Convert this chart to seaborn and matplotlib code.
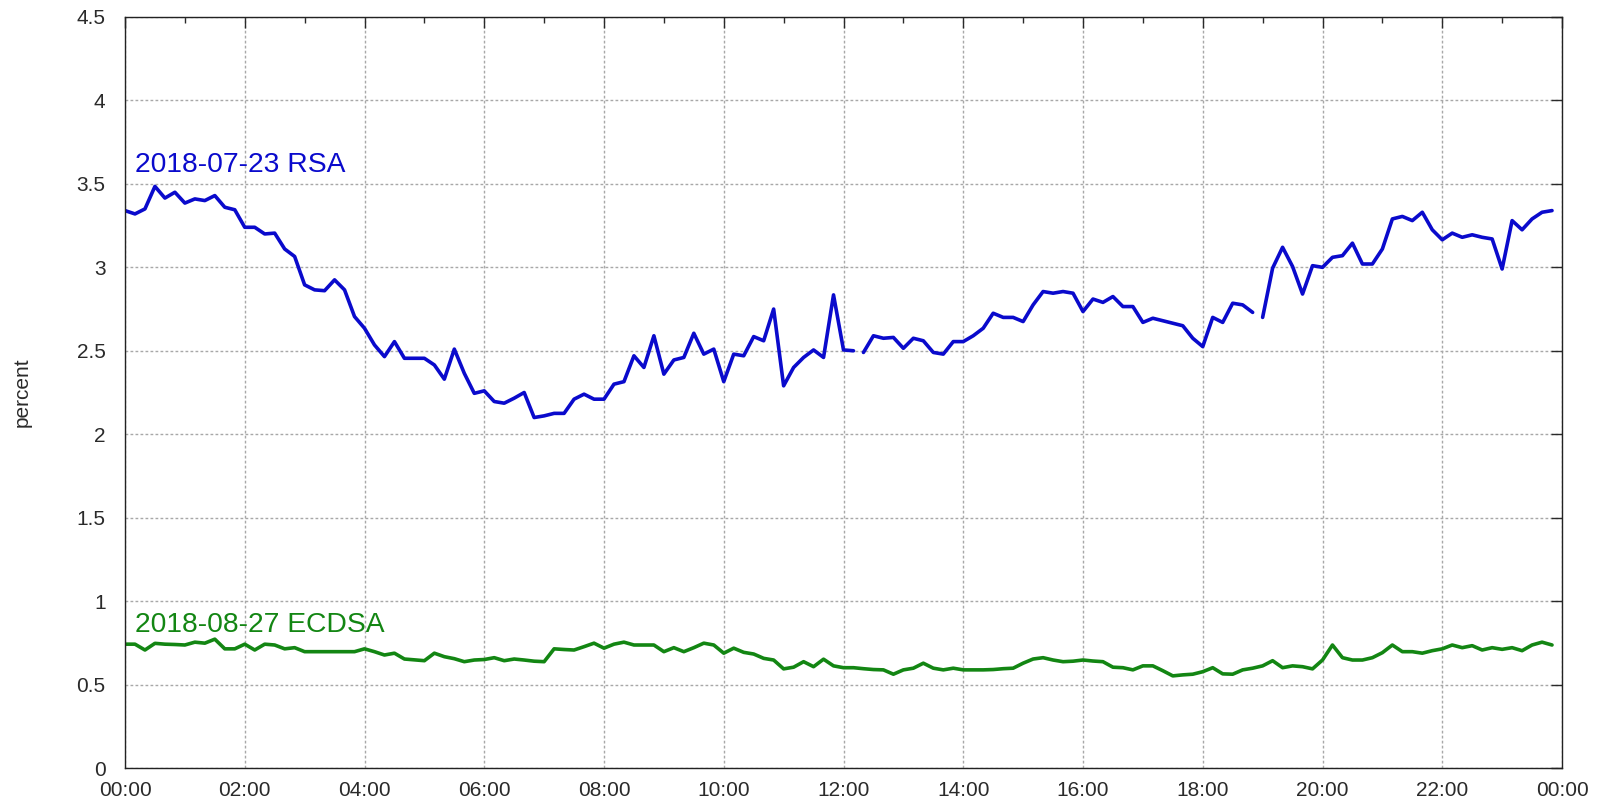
import matplotlib

matplotlib.use("Agg")
import matplotlib.pyplot as plt
import numpy as np
import pandas as pd
import seaborn as sns
from matplotlib.ticker import MultipleLocator

# one sample every 10 minutes, starting at 00:00
sample_minutes = 10

rsa_label = "2018-07-23 RSA"
ecdsa_label = "2018-08-27 ECDSA"

rsa_values = [
    3.34, 3.32, 3.35, 3.485, 3.415, 3.45, 3.385, 3.41, 3.40, 3.43, 3.36, 3.345,
    3.24, 3.24, 3.20, 3.205, 3.11, 3.065, 2.895, 2.865, 2.86, 2.925, 2.865, 2.705,
    2.635, 2.535, 2.465, 2.555, 2.455, 2.455, 2.455, 2.415, 2.33, 2.51, 2.365, 2.245,
    2.26, 2.196, 2.186, 2.216, 2.25, 2.10, 2.11, 2.125, 2.125, 2.21, 2.24, 2.21,
    2.21, 2.30, 2.315, 2.47, 2.40, 2.59, 2.36, 2.445, 2.46, 2.605, 2.48, 2.51,
    2.315, 2.48, 2.47, 2.585, 2.56, 2.75, 2.29, 2.40, 2.46, 2.505, 2.46, 2.835,
    2.505, 2.50, 2.49, 2.59, 2.575, 2.58, 2.515, 2.575, 2.56, 2.49, 2.48, 2.555,
    2.555, 2.59, 2.635, 2.725, 2.70, 2.70, 2.675, 2.775, 2.855, 2.845, 2.855, 2.845,
    2.735, 2.81, 2.79, 2.825, 2.765, 2.765, 2.67, 2.695, 2.68, 2.665, 2.65, 2.575,
    2.525, 2.70, 2.67, 2.785, 2.775, 2.73, 2.70, 2.995, 3.12, 3.005, 2.84, 3.01,
    3.00, 3.06, 3.07, 3.145, 3.02, 3.02, 3.11, 3.29, 3.305, 3.28, 3.33, 3.225,
    3.165, 3.205, 3.18, 3.195, 3.18, 3.17, 2.99, 3.28, 3.225, 3.29, 3.33, 3.34,
]

ecdsa_values = [
    0.742, 0.742, 0.707, 0.747, 0.742, 0.740, 0.737, 0.754, 0.748, 0.772, 0.714, 0.714,
    0.742, 0.707, 0.742, 0.737, 0.714, 0.721, 0.697, 0.697, 0.697, 0.697, 0.697, 0.697,
    0.714, 0.697, 0.677, 0.688, 0.653, 0.648, 0.643, 0.688, 0.667, 0.655, 0.637, 0.647,
    0.650, 0.661, 0.643, 0.653, 0.647, 0.640, 0.637, 0.714, 0.710, 0.707, 0.727, 0.748,
    0.718, 0.742, 0.754, 0.737, 0.737, 0.737, 0.697, 0.721, 0.697, 0.721, 0.748, 0.737,
    0.688, 0.718, 0.693, 0.683, 0.657, 0.647, 0.594, 0.604, 0.637, 0.607, 0.652, 0.612,
    0.601, 0.601, 0.595, 0.590, 0.588, 0.562, 0.588, 0.598, 0.628, 0.598, 0.588, 0.598,
    0.588, 0.588, 0.588, 0.590, 0.595, 0.598, 0.628, 0.653, 0.661, 0.647, 0.637, 0.640,
    0.647, 0.641, 0.637, 0.604, 0.601, 0.588, 0.612, 0.612, 0.583, 0.552, 0.558, 0.562,
    0.577, 0.601, 0.564, 0.562, 0.588, 0.598, 0.612, 0.643, 0.601, 0.612, 0.607, 0.594,
    0.647, 0.737, 0.661, 0.647, 0.647, 0.661, 0.691, 0.737, 0.697, 0.697, 0.688, 0.703,
    0.714, 0.737, 0.721, 0.733, 0.707, 0.721, 0.711, 0.721, 0.703, 0.737, 0.754, 0.737,
]

# hours at which the RSA trace is interrupted
rsa_breaks = [12.25, 18.92]
ecdsa_breaks = []

x_ticks = list(range(0, 25, 2))
x_tick_labels = [
    "00:00", "02:00", "04:00", "06:00", "08:00", "10:00", "12:00",
    "14:00", "16:00", "18:00", "20:00", "22:00", "00:00",
]
y_ticks = [0, 0.5, 1, 1.5, 2, 2.5, 3, 3.5, 4, 4.5]
y_tick_labels = ["0", "0.5", "1", "1.5", "2", "2.5", "3", "3.5", "4", "4.5"]

rsa_color = "#0a0acc"
ecdsa_color = "#138613"


def to_frame(values, breaks):
    hours = np.arange(len(values)) * sample_minutes / 60
    return pd.DataFrame(
        {
            "hour": hours,
            "percent": values,
            "segment": np.searchsorted(breaks, hours),
        }
    )


sns.set_style("white")
plt.rcParams["font.family"] = ["Liberation Sans", "DejaVu Sans"]

fig = plt.figure(figsize=(16.01, 8.05), dpi=100)
ax = fig.add_axes([125 / 1601, 37 / 805, 1437 / 1601, 751 / 805])

for values, breaks, color in [
    (rsa_values, rsa_breaks, rsa_color),
    (ecdsa_values, ecdsa_breaks, ecdsa_color),
]:
    sns.lineplot(
        data=to_frame(values, breaks),
        x="hour",
        y="percent",
        units="segment",
        estimator=None,
        color=color,
        linewidth=2.6,
        solid_capstyle="round",
        solid_joinstyle="round",
        ax=ax,
        legend=False,
    )

ax.text(0.17, 3.57, rsa_label, color=rsa_color, fontsize=20.3, va="baseline")
ax.text(0.17, 0.815, ecdsa_label, color=ecdsa_color, fontsize=20.3, va="baseline")

ax.set_xlim(0, 24)
ax.set_ylim(0, 4.5)
ax.set_xticks(x_ticks)
ax.set_xticklabels(x_tick_labels)
ax.set_yticks(y_ticks)
ax.set_yticklabels(y_tick_labels)
ax.xaxis.set_minor_locator(MultipleLocator(1))

ax.grid(True, which="major", color="#a8a8a8", linewidth=1.0, linestyle=(0, (2, 1.6)))
ax.tick_params(
    which="both", direction="in", top=True, right=True,
    colors="#2a2a2a", labelsize=15, width=1.0,
)
ax.tick_params(which="major", length=8)
ax.tick_params(which="minor", length=4.5)
ax.tick_params(axis="x", pad=9)
ax.tick_params(axis="y", pad=14)
for side in ["left", "bottom", "top", "right"]:
    ax.spines[side].set_color("#222222")
    ax.spines[side].set_linewidth(1.0)

ax.set_xlabel("")
ax.set_ylabel("percent", fontsize=15, color="#2a2a2a")
ax.yaxis.set_label_coords(-93 / 1437, 0.5)

fig.savefig("out.png", dpi=100)
